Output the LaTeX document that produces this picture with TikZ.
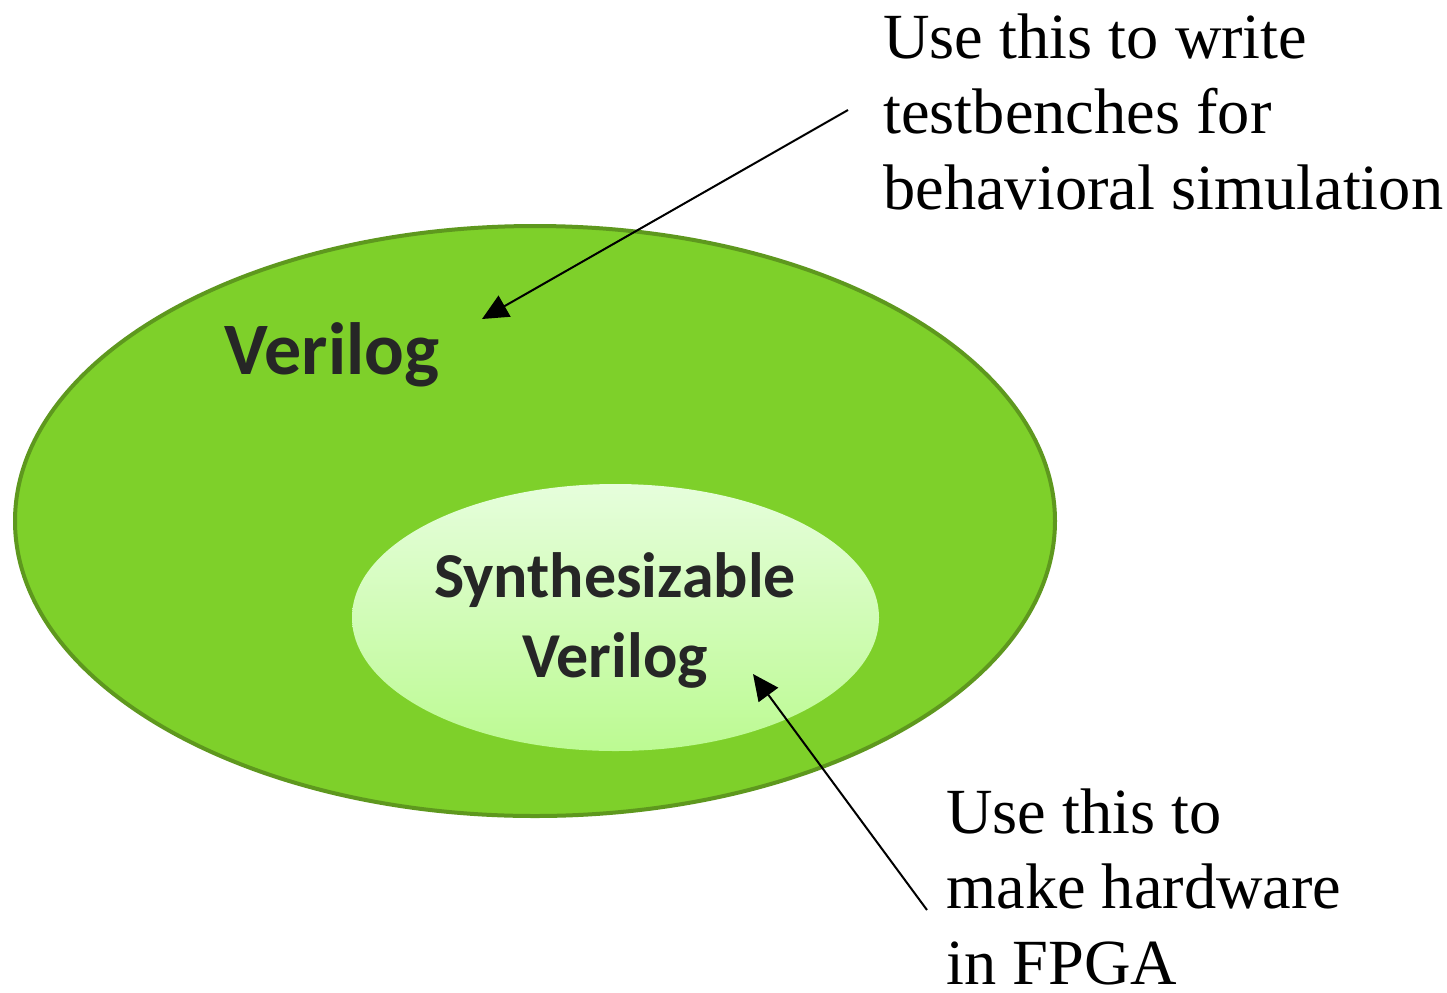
\documentclass[tikz,border=0pt]{standalone}
\usepackage{fontspec}
\setmainfont{Liberation Serif}
\newfontfamily\calibrifont{Carlito}
\usetikzlibrary{arrows.meta}
\definecolor{outergreen}{RGB}{126,208,42}
\definecolor{outeredge}{RGB}{94,152,30}
\definecolor{innertop}{RGB}{230,254,220}
\definecolor{innerbot}{RGB}{188,250,146}
\definecolor{labelgrey}{RGB}{38,38,38}
\tikzset{
  setlabel/.style={font={\calibrifont\bfseries\fontsize{37}{37}\selectfont}, text=labelgrey, inner sep=0pt},
  innerlabel/.style={font={\calibrifont\bfseries\fontsize{32}{40}\selectfont}, text=labelgrey, align=center, inner sep=0pt},
  note/.style={font={\fontsize{32.2}{37.75}\selectfont}, align=left, inner sep=0pt, anchor=base west},
  pointer/.style={line width=1pt, -{Triangle[length=13pt,width=12pt]}}
}
\begin{document}
\begin{tikzpicture}[x=0.5pt,y=-0.5pt]
\useasboundingbox[fill=white] (0,0) rectangle (1447,992);

%Shape: Ellipse, Verilog
\draw [outeredge, fill=outergreen, line width=2pt] (535,521) ellipse [x radius=520, y radius=295];
%Shape: Ellipse, synthesizable subset
\shade [top color=innertop, bottom color=innerbot] (615.5,617.5) ellipse [x radius=263.5, y radius=133.5];

% Text Node
\node (verilog) [setlabel] at (332,355) {Verilog};
% Text Node
\node (synth) [innerlabel] at (615,620) {Synthesizable\\Verilog};

% Text Node (base = last line)
\node (testnote) [note] at (883,209) {Use this to write\\testbenches for\\behavioral simulation};
% Text Node (base = last line)
\node (hwnote) [note] at (946,984) {Use this to\\make hardware\\in FPGA};

\coordinate (testfrom) at (848,110);
\coordinate (testto) at (482,319);
\coordinate (hwfrom) at (927,910);
\coordinate (hwto) at (753,674);

%Straight Lines
\draw [pointer] (testfrom) -- (testto);
\draw [pointer] (hwfrom) -- (hwto);
\end{tikzpicture}
\end{document}
